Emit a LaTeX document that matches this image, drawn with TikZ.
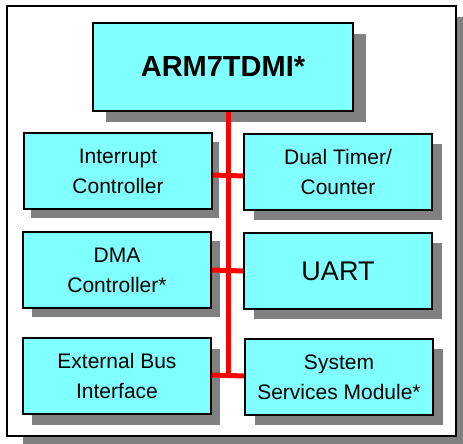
\documentclass[tikz,border=0pt]{standalone}
\usepackage{fontspec}
\setmainfont{Liberation Sans}
\usetikzlibrary{shadows}
\definecolor{chip}{HTML}{80FFFF}
\definecolor{shadowgray}{HTML}{808080}

\begin{document}
\begin{tikzpicture}[x=1pt,y=-1pt]
    \tikzstyle{block}=[draw=black,line width=1.5pt,fill=chip,align=center]
    \tikzstyle{unit}=[block,minimum width=188pt,minimum height=76pt,font=\fontsize{21}{30}\selectfont]
    \tikzstyle{bus}=[draw=red,line width=5pt]
    \tikzset{shade/.style 2 args={drop shadow={shadow xshift=#1,shadow yshift=#2,fill=shadowgray,opacity=1}}}

    \useasboundingbox (0,0) rectangle (463,444);

    % Draw the outer frame
    \node[block,fill=white,minimum width=449pt,minimum height=430pt,shade={16pt}{-11pt}] (frame) at (231.5,221) {};

    % Draw the processor core
    \node[block,shade={13pt}{-11pt},minimum width=260pt,minimum height=88pt,
        font=\bfseries\fontsize{29}{34}\selectfont] (cpu) at (223,67) {ARM7TDMI*};

    % Draw the left column
    \node[unit,shade={7pt}{-9pt}] (L-1) at (118,171) {Interrupt\\Controller};
    \node[unit,shade={9pt}{-9pt}] (L-2) at (117,270) {DMA\\Controller*};
    \node[unit,shade={9pt}{-11pt}] (L-3) at (117,376) {External Bus\\Interface};

    % Draw the right column
    \node[unit,shade={10pt}{-10pt}] (R-1) at (338,172) {Dual Timer/\\Counter};
    \node[unit,shade={10pt}{-10pt},font=\fontsize{27}{30}\selectfont] (R-2) at (338,271) {UART};
    \node[unit,shade={10pt}{-10pt}] (R-3) at (339,377) {System\\Services Module*};

    % Connect every block to the bus
    \coordinate (bus-end) at (228,375);
    \draw[bus] (cpu.south -| bus-end) -- (bus-end);
    \foreach \row / \dy in {1/-4pt,2/0pt,3/1pt}
        \draw[bus] ([yshift=\dy]L-\row.east) -- ([yshift=\dy]R-\row.west);
\end{tikzpicture}
\end{document}
